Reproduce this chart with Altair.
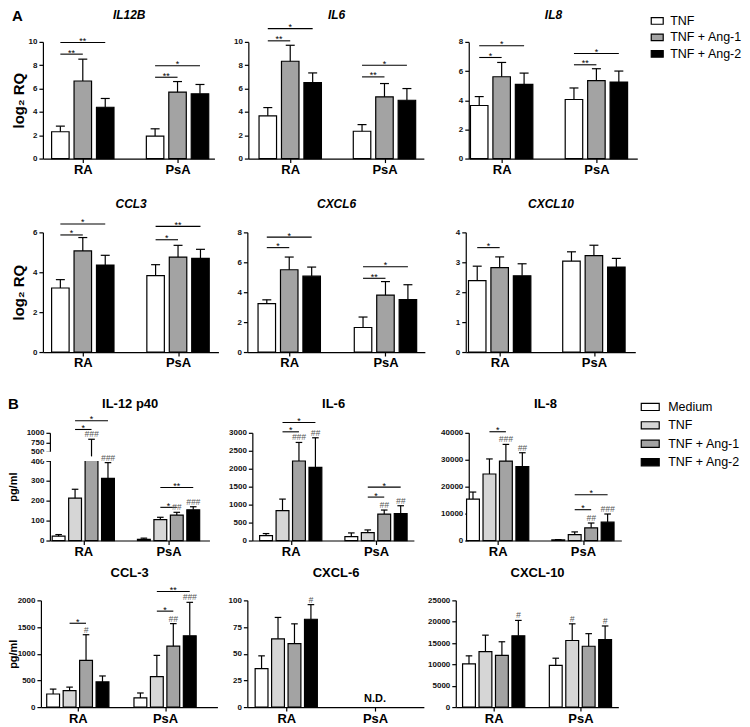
import altair as alt
import pandas as pd

FONT = "Liberation Sans"

GROUPS = ["RA", "PsA"]
TREAT_A = ["TNF", "TNF + Ang-1", "TNF + Ang-2"]
TREAT_B = ["Medium", "TNF", "TNF + Ang-1", "TNF + Ang-2"]
FILL_A = ["#ffffff", "#a3a3a3", "#000000"]
FILL_B = ["#ffffff", "#d6d6d6", "#a3a3a3", "#000000"]

# ---------- Section A (log2 RQ); order RA(TNF, Ang-1, Ang-2), PsA(TNF, Ang-1, Ang-2)
IL12B_MEAN = [2.3, 6.65, 4.4, 1.93, 5.7, 5.55]
IL12B_UPPER = [2.78, 8.52, 5.15, 2.55, 6.6, 6.35]
IL12B_SIG = [("RA", 0, 1, 8.95, "**"), ("RA", 0, 2, 9.95, "**"),
             ("PsA", 0, 1, 6.97, "**"), ("PsA", 0, 2, 7.96, "*")]

IL6_MEAN = [3.66, 8.34, 6.51, 2.34, 5.29, 5.0]
IL6_UPPER = [4.37, 9.71, 7.34, 2.91, 6.43, 6.0]
IL6_SIG = [("RA", 0, 1, 10.09, "**"), ("RA", 0, 2, 11.14, "*"),
           ("PsA", 0, 1, 7.0, "**"), ("PsA", 0, 2, 8.0, "*")]

IL8_MEAN = [3.64, 5.61, 5.09, 4.05, 5.34, 5.25]
IL8_UPPER = [4.25, 6.59, 5.86, 4.84, 6.16, 6.0]
IL8_SIG = [("RA", 0, 1, 6.93, "*"), ("RA", 0, 2, 7.73, "*"),
           ("PsA", 0, 1, 6.43, "**"), ("PsA", 0, 2, 7.2, "*")]

CCL3_MEAN = [3.21, 5.07, 4.36, 3.83, 4.76, 4.7]
CCL3_UPPER = [3.63, 5.74, 4.85, 4.38, 5.35, 5.15]
CCL3_SIG = [("RA", 0, 1, 5.87, "*"), ("RA", 0, 2, 6.42, "*"),
            ("PsA", 0, 1, 5.63, "*"), ("PsA", 0, 2, 6.3, "**")]

CXCL6_MEAN = [3.24, 5.5, 5.07, 1.64, 3.81, 3.51]
CXCL6_UPPER = [3.49, 6.35, 5.68, 2.34, 4.71, 4.5]
CXCL6_SIG = [("RA", 0, 1, 6.98, "*"), ("RA", 0, 2, 7.68, "*"),
             ("PsA", 0, 1, 4.93, "**"), ("PsA", 0, 2, 5.7, "*")]

CXCL10_MEAN = [2.39, 2.82, 2.55, 3.04, 3.22, 2.84]
CXCL10_UPPER = [2.87, 3.18, 2.95, 3.35, 3.57, 3.13]
CXCL10_SIG = [("RA", 0, 1, 3.49, "*")]

# ---------- Section B (pg/ml); order RA(Medium, TNF, Ang-1, Ang-2), PsA(...)
IL12P40_MEAN = [22, 213, 450, 313, 6, 105, 128, 155]
IL12P40_UPPER = [30, 258, 830, 392, 12, 117, 142, 170]
IL12P40_SIG = [("RA", 1, 2, 1088, "*"), ("RA", 1, 3, 1320, "*"),
               ("PsA", 1, 2, 167, "*"), ("PsA", 1, 3, 267, "**")]
IL12P40_HASH = [("RA", 2, "###"), ("RA", 3, "###"), ("PsA", 2, "##"), ("PsA", 3, "###")]

IL6B_MEAN = [138, 831, 2215, 2040, 111, 222, 738, 748]
IL6B_UPPER = [194, 1154, 2732, 2862, 212, 295, 849, 969]
IL6B_SIG = [("RA", 1, 2, 3028, "*"), ("RA", 1, 3, 3287, "*"),
            ("PsA", 1, 2, 1210, "*"), ("PsA", 1, 3, 1487, "*")]
IL6B_HASH = [("RA", 2, "###"), ("RA", 3, "##"), ("PsA", 2, "##"), ("PsA", 3, "##")]

IL8B_MEAN = [15400, 24700, 29500, 27450, 250, 2200, 4700, 6800]
IL8B_UPPER = [18000, 30300, 35700, 32600, 350, 3200, 6500, 9850]
IL8B_SIG = [("RA", 1, 2, 40400, "*"), ("PsA", 1, 2, 11450, "*"), ("PsA", 1, 3, 17000, "*")]
IL8B_HASH = [("RA", 2, "###"), ("RA", 3, "##"), ("PsA", 2, "##"), ("PsA", 3, "###")]

CCL3B_MEAN = [245, 307, 877, 472, 172, 571, 1141, 1337]
CCL3B_UPPER = [337, 374, 1356, 583, 264, 969, 1564, 1963]
CCL3B_SIG = [("RA", 1, 2, 1571, "*"), ("PsA", 1, 2, 1798, "*"), ("PsA", 1, 3, 2166, "**")]
CCL3B_HASH = [("RA", 2, "#"), ("PsA", 2, "##"), ("PsA", 3, "###")]

CXCL6B_MEAN = [36, 64, 59.5, 82.3, None, None, None, None]
CXCL6B_UPPER = [48, 84, 78, 96, None, None, None, None]
CXCL6B_HASH = [("RA", 3, "#")]
CXCL6B_ND = ["PsA"]

CXCL10B_MEAN = [10100, 13000, 12100, 16700, 9750, 15600, 14250, 15800]
CXCL10B_UPPER = [12000, 16850, 15300, 20300, 11450, 19500, 17200, 19000]
CXCL10B_HASH = [("RA", 3, "#"), ("PsA", 1, "#"), ("PsA", 3, "#")]


def panel(c):
    slot, W, H = c["slot"], c["W"], c["H"]
    sh = c.get("shift", 0)
    xmin = -c["ra"] / slot
    xmax = (W - c["ra"]) / slot
    psa_c = (c["psa"] - c["ra"]) / slot
    centers = {"RA": 0.0, "PsA": psa_c}
    n = len(c["treat"])

    def bx(g, i):
        return centers[g] + (i - (n - 1) / 2)

    rows = []
    for gi, g in enumerate(GROUPS):
        for i, t in enumerate(c["treat"]):
            m = c["mean"][gi * n + i]
            if m is None:
                continue
            p = bx(g, i)
            rows.append(dict(treat=t, pos=p, x0=p - 0.39, x1=p + 0.39,
                             c0=p - 0.2, c1=p + 0.2, mean=m,
                             upper=c["upper"][gi * n + i]))
    bars = pd.DataFrame(rows)

    if sh:
        xs = alt.Scale(domain=[xmin, xmax], range=[sh, W + sh], nice=False, zero=False)
    else:
        xs = alt.Scale(domain=[xmin, xmax], nice=False, zero=False)
    if "yrange" in c:
        ys = alt.Scale(domain=c["ydomain"], range=c["yrange"], nice=False, zero=False)
    else:
        ys = alt.Scale(domain=c["ydomain"], nice=False)

    xaxis = alt.Axis(orient="bottom", values=[0, psa_c],
                     labelExpr="datum.value < 0.5 ? 'RA' : 'PsA'", title=None,
                     grid=False, tickSize=4, tickColor="black", tickWidth=1.2,
                     domainColor="black", domainWidth=1.2, labelFontSize=13,
                     labelFontWeight="bold", labelFont=FONT, labelColor="black",
                     labelPadding=1, labelFlush=False, labelOverlap=False)
    yargs = dict(orient="left", values=c["yticks"], format="d", grid=False, tickSize=4,
                 tickColor="black", tickWidth=1.2, domainColor="black", domainWidth=1.2,
                 labelFontSize=8, labelFontWeight="bold", labelFont=FONT,
                 labelColor="#111111", labelPadding=2, labelOverlap=False,
                 minExtent=c["yext"], maxExtent=c["yext"])
    if sh:
        yargs.update(offset=-sh)
    if "ytitle" in c:
        yargs.update(title=c["ytitle"], titleFontSize=c["ytsize"], titleFont=FONT,
                     titleFontWeight="bold", titleColor="black",
                     titlePadding=c["ytpad"])
    else:
        yargs.update(title=None)
    yaxis = alt.Axis(**yargs)
    taxis = alt.Axis(orient="top", title=c["title"], labels=False, ticks=False,
                     domain=False, grid=False, titleFontSize=c["tsize"],
                     titleFontWeight="bold", titleFontStyle=c["tstyle"],
                     titleFont=FONT, titleColor="black", titlePadding=c["tpad"],
                     minExtent=0, maxExtent=0)

    if "legend" in c:
        lg = c["legend"]
        legend = alt.Legend(orient="none", legendX=lg["x"], legendY=lg["y"],
                            title=None, symbolType=lg["path"], symbolSize=lg["size"],
                            symbolStrokeColor="black", symbolStrokeWidth=1.2,
                            symbolOpacity=1, labelFontSize=12.5, labelFont=FONT,
                            labelColor="black", rowPadding=lg["rowpad"],
                            labelOffset=lg["loff"], padding=0)
    else:
        legend = None
    color = alt.Color("treat:N", scale=alt.Scale(domain=c["treat"], range=c["fill"]),
                      legend=legend)

    def Y(field):
        return alt.Y(field, type="quantitative", scale=ys, axis=yaxis)

    base = alt.Chart(bars)
    layers = []
    layers.append(base.mark_bar(stroke="black", strokeWidth=1.2, opacity=1).encode(
        x=alt.X("x0:Q", scale=xs, axis=xaxis), x2=alt.X2("x1"),
        y=Y("mean"), y2=alt.datum(0), color=color))
    if "gap" in c:
        gap_df = pd.DataFrame([dict(a=xmin - 0.45, b=xmax, lo=c["gap"][0], hi=c["gap"][1])])
        layers.append(alt.Chart(gap_df).mark_rect(color="white", opacity=1).encode(
            x=alt.X("a:Q", scale=xs, axis=None), x2=alt.X2("b"),
            y=Y("lo"), y2=alt.Y2("hi")))
    layers.append(base.mark_rule(color="black", strokeWidth=1.2).encode(
        x=alt.X("pos:Q", scale=xs, axis=taxis),
        y=Y("mean"), y2=alt.Y2("upper")))
    layers.append(base.mark_rule(color="black", strokeWidth=1.2).encode(
        x=alt.X("c0:Q", scale=xs, axis=None), x2=alt.X2("c1"),
        y=Y("upper")))

    sig = c.get("sig", [])
    if sig:
        sdf = pd.DataFrame([dict(xa=bx(g, a), xb=bx(g, b), xm=(bx(g, a) + bx(g, b)) / 2,
                                 yv=y, lab=l) for g, a, b, y, l in sig])
        sb = alt.Chart(sdf)
        layers.append(sb.mark_rule(color="black", strokeWidth=1.1).encode(
            x=alt.X("xa:Q", scale=xs, axis=None), x2=alt.X2("xb"), y=Y("yv")))
        layers.append(sb.mark_text(fontSize=9, font=FONT, color="black",
                                   baseline="alphabetic", dy=1.5).encode(
            x=alt.X("xm:Q", scale=xs, axis=None), y=Y("yv"), text="lab:N"))
    hsh = c.get("hash", [])
    if hsh:
        up = {}
        for r in rows:
            up[round(r["pos"], 6)] = r["upper"]
        hdf = pd.DataFrame([dict(hx=bx(g, i), hy=up[round(bx(g, i), 6)], lab=l)
                            for g, i, l in hsh])
        layers.append(alt.Chart(hdf).mark_text(fontSize=8.5, font=FONT, color="#555555",
                                               fontStyle="italic", baseline="alphabetic",
                                               dy=-2).encode(
            x=alt.X("hx:Q", scale=xs, axis=None), y=Y("hy"), text="lab:N"))
    nd = c.get("nd", [])
    if nd:
        ndf = pd.DataFrame([dict(nx=centers[g], ny=0, lab="N.D.") for g in nd])
        layers.append(alt.Chart(ndf).mark_text(fontSize=11, font=FONT, fontWeight="bold",
                                               color="black", baseline="bottom",
                                               dy=-3).encode(
            x=alt.X("nx:Q", scale=xs, axis=None), y=Y("ny"), text="lab:N"))
    return alt.layer(*layers).properties(width=W + sh, height=H)


A = dict(treat=TREAT_A, fill=FILL_A, slot=22.5, tsize=12, tstyle="italic", tpad=22)
B = dict(treat=TREAT_B, fill=FILL_B, slot=16.5, tsize=13, tstyle="normal", tpad=22)
LOG_TITLE = dict(ytitle="log₂ RQ", ytsize=15, ytpad=0, yext=16, shift=2)
LEG_A = dict(x=182, y=-28, path="M-1,-0.55H1V0.55H-1Z", size=144, rowpad=2.5, loff=6)
LEG_B = dict(x=172, y=-36, path="M-1,-0.4H1V0.4H-1Z", size=324, rowpad=1.5, loff=8)

p_il12b = panel({**A, **LOG_TITLE, "tpad": 20, "title": "IL12B", "mean": IL12B_MEAN,
                 "upper": IL12B_UPPER, "sig": IL12B_SIG, "W": 172, "H": 117,
                 "ydomain": [0, 10], "yticks": [0, 2, 4, 6, 8, 10], "ra": 40, "psa": 135})
p_il6 = panel({**A, "tpad": 20, "title": "IL6", "mean": IL6_MEAN, "upper": IL6_UPPER,
               "sig": IL6_SIG, "W": 176, "H": 117, "yext": 34, "ydomain": [0, 10],
               "yticks": [0, 2, 4, 6, 8, 10], "ra": 42, "psa": 136.5})
p_il8 = panel({**A, "tpad": 20, "title": "IL8", "mean": IL8_MEAN, "upper": IL8_UPPER,
               "sig": IL8_SIG, "W": 169, "H": 117, "yext": 45, "ydomain": [0, 8],
               "yticks": [0, 2, 4, 6, 8], "ra": 33, "psa": 128, "legend": LEG_A})
p_ccl3 = panel({**A, **LOG_TITLE, "title": "CCL3", "mean": CCL3_MEAN, "upper": CCL3_UPPER,
                "sig": CCL3_SIG, "W": 176, "H": 120, "ydomain": [0, 6],
                "yticks": [0, 2, 4, 6], "ra": 40, "psa": 135.5})
p_cxcl6 = panel({**A, "title": "CXCL6", "mean": CXCL6_MEAN, "upper": CXCL6_UPPER,
                 "sig": CXCL6_SIG, "W": 178, "H": 120, "yext": 29, "ydomain": [0, 8],
                 "yticks": [0, 2, 4, 6, 8], "ra": 42, "psa": 138.5})
p_cxcl10 = panel({**A, "title": "CXCL10", "mean": CXCL10_MEAN, "upper": CXCL10_UPPER,
                  "sig": CXCL10_SIG, "W": 170, "H": 120, "yext": 41, "ydomain": [0, 4],
                  "yticks": [0, 1, 2, 3, 4], "ra": 34, "psa": 128.5})

p_il12p40 = panel({**B, "title": "IL-12 p40", "mean": IL12P40_MEAN, "upper": IL12P40_UPPER,
                   "sig": IL12P40_SIG, "hash": IL12P40_HASH, "W": 160, "H": 108, "shift": 9,
                   "ytitle": "pg/ml", "ytsize": 11, "ytpad": 3, "yext": 28,
                   "ydomain": [0, 400, 500, 1000], "yrange": [108, 28.3, 19, 0],
                   "gap": [400, 500],
                   "yticks": [0, 100, 200, 300, 400, 500, 750, 1000], "ra": 33.5, "psa": 119})
p_il6b = panel({**B, "title": "IL-6", "mean": IL6B_MEAN, "upper": IL6B_UPPER,
                "sig": IL6B_SIG, "hash": IL6B_HASH, "W": 162, "H": 108, "yext": 43,
                "ydomain": [0, 3000], "yticks": [0, 500, 1000, 1500, 2000, 2500, 3000],
                "ra": 38.5, "psa": 124})
p_il8b = panel({**B, "title": "IL-8", "mean": IL8B_MEAN, "upper": IL8B_UPPER,
                "sig": IL8B_SIG, "hash": IL8B_HASH, "W": 153, "H": 108, "yext": 55,
                "ydomain": [0, 40000], "yticks": [0, 10000, 20000, 30000, 40000],
                "ra": 29, "psa": 114.5, "legend": LEG_B})
p_ccl3b = panel({**B, "tpad": 21, "title": "CCL-3", "mean": CCL3B_MEAN, "upper": CCL3B_UPPER,
                 "sig": CCL3B_SIG, "hash": CCL3B_HASH, "W": 177, "H": 107,
                 "ytitle": "pg/ml", "ytsize": 11, "ytpad": 0, "yext": 22,
                 "ydomain": [0, 2000], "yticks": [0, 500, 1000, 1500, 2000],
                 "ra": 37, "psa": 124.5})
p_cxcl6b = panel({**B, "tpad": 21, "title": "CXCL-6", "mean": CXCL6B_MEAN,
                  "upper": CXCL6B_UPPER, "hash": CXCL6B_HASH, "nd": CXCL6B_ND,
                  "W": 177, "H": 107, "yext": 30, "ydomain": [0, 100],
                  "yticks": [0, 25, 50, 75, 100], "ra": 39, "psa": 128})
p_cxcl10b = panel({**B, "tpad": 21, "title": "CXCL-10", "mean": CXCL10B_MEAN,
                   "upper": CXCL10B_UPPER, "hash": CXCL10B_HASH, "W": 163, "H": 107,
                   "yext": 32, "ydomain": [0, 25000],
                   "yticks": [0, 5000, 10000, 15000, 20000, 25000], "ra": 38, "psa": 125})


def row(panels, letter=None):
    kw = dict(spacing=0)
    if letter:
        kw["title"] = alt.TitleParams(letter, anchor="start", frame="bounds", offset=-15,
                                      fontSize=15, fontWeight="bold", font=FONT,
                                      color="black")
    return alt.hconcat(*panels, **kw).resolve_scale(
        x="independent", y="independent", color="independent").resolve_legend(
        color="independent")


rA1 = row([p_il12b, p_il6, p_il8], "A")
rA2 = row([p_ccl3, p_cxcl6, p_cxcl10])
rB1 = row([p_il12p40, p_il6b, p_il8b], "B")
rB2 = row([p_ccl3b, p_cxcl6b, p_cxcl10b])


def col(charts, sp):
    return alt.concat(*charts, columns=1, align="none", spacing=sp).resolve_scale(
        x="independent", y="independent", color="independent").resolve_legend(
        color="independent")


chart = col([col([rA1, rA2], 21), col([rB1, rB2], 8)], 27).properties(
    padding={"left": 0, "top": 0, "right": 0, "bottom": 0}).configure(
    font=FONT, padding=0).configure_view(stroke=None)

chart.save("out.html", embed_options={"renderer": "svg", "actions": False})
